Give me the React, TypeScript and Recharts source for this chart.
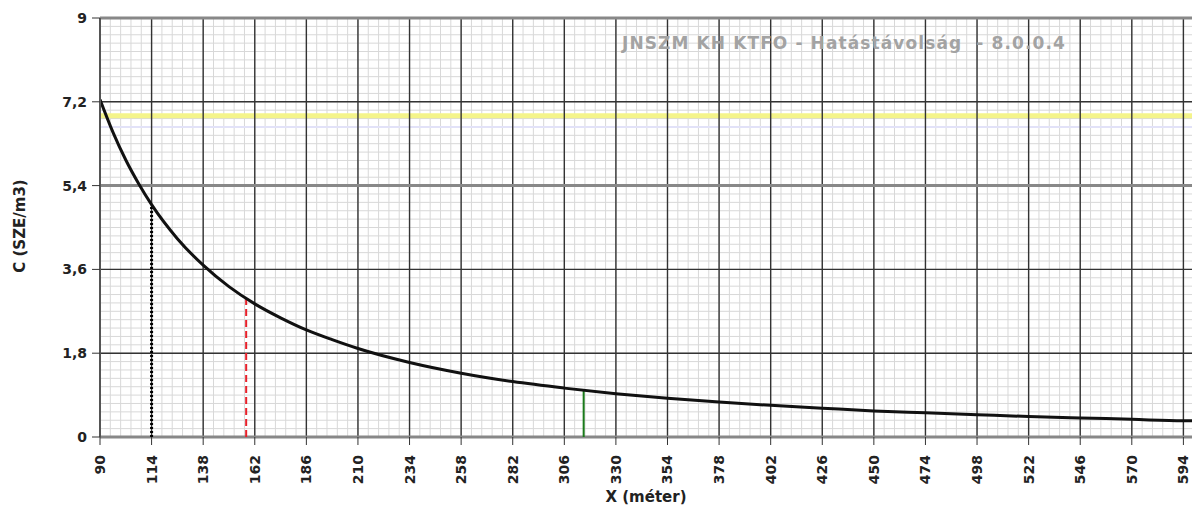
import { LineChart, Line, XAxis, YAxis, ReferenceLine } from 'recharts';

// distance (m) and concentration (SZE/m3)
const xs = [90, 96, 102, 108, 114, 126, 138, 150, 162, 174, 186, 198, 210, 234, 258, 282, 306, 330, 354, 378, 402, 426, 450, 474, 498, 522, 546, 570, 594, 598];
const cs = [7.25, 6.55, 5.95, 5.44, 4.99, 4.26, 3.69, 3.23, 2.86, 2.56, 2.3, 2.09, 1.9, 1.6, 1.37, 1.19, 1.05, 0.93, 0.83, 0.75, 0.68, 0.62, 0.56, 0.52, 0.48, 0.44, 0.41, 0.38, 0.35, 0.35];

const xTicks = [90, 114, 138, 162, 186, 210, 234, 258, 282, 306, 330, 354, 378, 402, 426, 450, 474, 498, 522, 546, 570, 594];
const yTicks = [0, 1.8, 3.6, 5.4, 7.2, 9];
const yThick = [0, 5.4, 9];
const limit = 6.9;

// marker drops: [x, c]
const dotted = [114, 4.99];
const dashed = [158, 3.0];
const solid = [315, 1.0];

const X_MAX = 598;

const data = xs.map((x, i) => ({ x, c: cs[i] }));

const minorX: number[] = [];
for (let v = 90; v <= X_MAX; v += 4.8) minorX.push(+v.toFixed(2));
const minorY: number[] = [];
for (let v = 0; v <= 9; v += 0.18) minorY.push(+v.toFixed(2));

const font = '"DejaVu Sans", Verdana, sans-serif';

const XTick = (p: any) => (
  <text
    x={p.x}
    y={p.y}
    transform={`rotate(-90 ${p.x} ${p.y})`}
    textAnchor="end"
    dominantBaseline="central"
    fontFamily={font}
    fontWeight="bold"
    fontSize={14}
    fill="#222"
  >
    {p.payload.value}
  </text>
);

const YTick = (p: any) => (
  <text x={p.x} y={p.y} textAnchor="end" dominantBaseline="central" fontFamily={font} fontWeight="bold" fontSize={14} fill="#222">
    {String(p.payload.value).replace('.', ',')}
  </text>
);

export default function App() {
  return (
    <div style={{ position: 'relative', width: 1192, height: 529, background: '#fff' }}>
      <style>{'body{margin:0}'}</style>
      <LineChart width={1192} height={529} data={data} margin={{ top: 18, right: 0, left: 0, bottom: 0 }}>
        {minorX.map((v) => (
          <ReferenceLine key={'mx' + v} x={v} stroke="#d8d8d8" strokeWidth={1} ifOverflow="hidden" />
        ))}
        {minorY.map((v) => (
          <ReferenceLine key={'my' + v} y={v} stroke="#d8d8d8" strokeWidth={1} />
        ))}
        <ReferenceLine y={limit} stroke="#f4f48a" strokeWidth={5} />
        <ReferenceLine y={6.66} stroke="#e2e2f8" strokeWidth={2} />
        {xTicks.map((v) => (
          <ReferenceLine key={'X' + v} x={v} stroke="#333" strokeWidth={1.4} />
        ))}
        {yTicks.filter((v) => !yThick.includes(v)).map((v) => (
          <ReferenceLine key={'Y' + v} y={v} stroke="#333" strokeWidth={1.4} />
        ))}
        {yThick.map((v) => (
          <ReferenceLine key={'T' + v} y={v} stroke="#888" strokeWidth={3} />
        ))}
        <XAxis
          dataKey="x"
          type="number"
          domain={[90, X_MAX]}
          ticks={xTicks}
          interval={0}
          height={92}
          axisLine={false}
          tickLine={{ stroke: '#333' }}
          tickSize={8}
          tickMargin={10}
          tick={<XTick />}
          allowDataOverflow
        />
        <YAxis
          type="number"
          domain={[0, 9]}
          ticks={yTicks}
          interval={0}
          width={100}
          axisLine={{ stroke: '#555', strokeWidth: 2 }}
          tickLine={{ stroke: '#333' }}
          tickSize={8}
          tickMargin={5}
          tick={<YTick />}
        />
        <ReferenceLine segment={[{ x: dotted[0], y: 0 }, { x: dotted[0], y: dotted[1] }]} stroke="#000" strokeWidth={3} strokeDasharray="2 2" />
        <ReferenceLine segment={[{ x: dashed[0], y: 0 }, { x: dashed[0], y: dashed[1] }]} stroke="#e8202a" strokeWidth={2} strokeDasharray="7 4" />
        <ReferenceLine segment={[{ x: solid[0], y: 0 }, { x: solid[0], y: solid[1] }]} stroke="#1a7a1a" strokeWidth={2} />
        <Line type="monotone" dataKey="c" stroke="#111" strokeWidth={3} dot={false} isAnimationActive={false} />
      </LineChart>
      <div style={{ position: 'absolute', left: 622, top: 33, fontFamily: font, fontWeight: 'bold', fontSize: 17, letterSpacing: 1.1, color: '#a3a3a3', whiteSpace: 'pre' }}>
        {'JNSZM KH KTFO - Hatástávolság  - 8.0.0.4'}
      </div>
      <div style={{ position: 'absolute', left: 20, top: 226, transform: 'translate(-50%, -50%) rotate(-90deg)', fontFamily: font, fontWeight: 'bold', fontSize: 15, color: '#222', whiteSpace: 'pre' }}>
        C (SZE/m3)
      </div>
      <div style={{ position: 'absolute', left: 646, top: 497, transform: 'translate(-50%, -50%)', fontFamily: font, fontWeight: 'bold', fontSize: 15, color: '#222', whiteSpace: 'pre' }}>
        X (méter)
      </div>
    </div>
  );
}
